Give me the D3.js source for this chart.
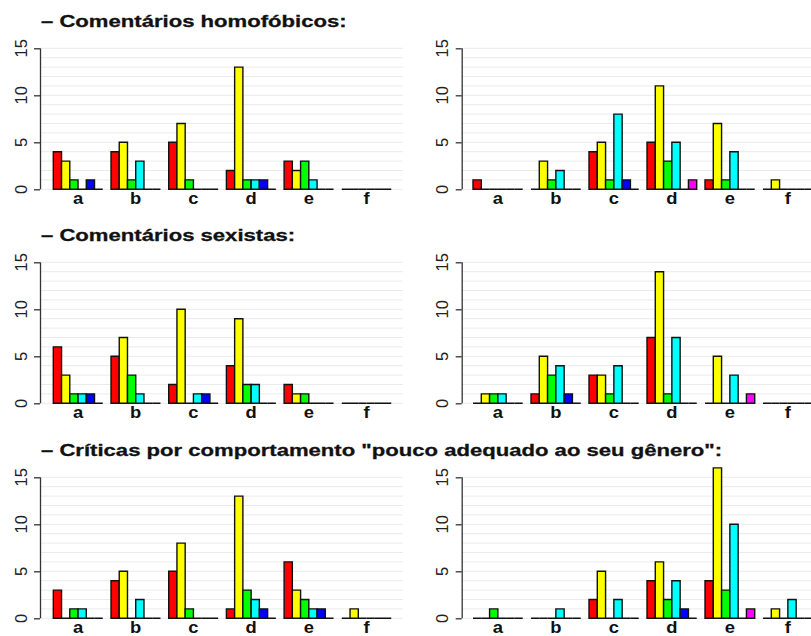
<!DOCTYPE html>
<html>
<head>
<meta charset="utf-8">
<script src="https://cdn.jsdelivr.net/npm/d3@7"></script>
<style>
  body { margin: 0; background: #fff; }
  svg { display: block; font-family: "Liberation Sans", Arial, sans-serif; }
</style>
</head>
<body>
<div id="chart"></div>
<script>
// categories and series
const groups = ['a', 'b', 'c', 'd', 'e', 'f'];
const seriesColors = ['#ff0000', '#ffff00', '#00ff00', '#00ffff', '#0000ff', '#ff00ff'];
const yTicks = [0, 5, 10, 15];
const rowTitles = [
  '\u2013 Comentários homofóbicos:',
  '\u2013 Comentários sexistas:',
  '\u2013 Críticas por comportamento "pouco adequado ao seu gênero":'
];

// values per group (a..f), six bars each (red, yellow, green, cyan, blue, magenta)
const homofobicosLeft = [[4, 3, 1, 0, 1, 0], [4, 5, 1, 3, 0, 0], [5, 7, 1, 0, 0, 0], [2, 13, 1, 1, 1, 0], [3, 2, 3, 1, 0, 0], [0, 0, 0, 0, 0, 0]];
const homofobicosRight = [[1, 0, 0, 0, 0, 0], [0, 3, 1, 2, 0, 0], [4, 5, 1, 8, 1, 0], [5, 11, 3, 5, 0, 1], [1, 7, 1, 4, 0, 0], [0, 1, 0, 0, 0, 0]];
const sexistasLeft = [[6, 3, 1, 1, 1, 0], [5, 7, 3, 1, 0, 0], [2, 10, 0, 1, 1, 0], [4, 9, 2, 2, 0, 0], [2, 1, 1, 0, 0, 0], [0, 0, 0, 0, 0, 0]];
const sexistasRight = [[0, 1, 1, 1, 0, 0], [1, 5, 3, 4, 1, 0], [3, 3, 1, 4, 0, 0], [7, 14, 1, 7, 0, 0], [0, 5, 0, 3, 0, 1], [0, 0, 0, 0, 0, 0]];
const criticasLeft = [[3, 0, 1, 1, 0, 0], [4, 5, 0, 2, 0, 0], [5, 8, 1, 0, 0, 0], [1, 13, 3, 2, 1, 0], [6, 3, 2, 1, 1, 0], [0, 1, 0, 0, 0, 0]];
const criticasRight = [[0, 0, 1, 0, 0, 0], [0, 0, 0, 1, 0, 0], [2, 5, 0, 2, 0, 0], [4, 6, 2, 4, 1, 0], [4, 16, 3, 10, 0, 1], [0, 1, 0, 2, 0, 0]];

const panelRows = [
  [homofobicosLeft, homofobicosRight],
  [sexistasLeft, sexistasRight],
  [criticasLeft, criticasRight]
];

const width = 811, height = 636;
const rowZero = [189.3, 403.3, 618.3];
const unit = 9.4;
const cols = [
  { axisX: 40, start: 53.3, step: 57.7, gridEnd: 403 },
  { axisX: 461.7, start: 473, step: 58, gridEnd: 811 }
];

const svg = d3.select('#chart').append('svg')
  .attr('width', width)
  .attr('height', height)
  .attr('viewBox', [0, 0, width, height]);

panelRows.forEach((row, r) => {
  const y0 = rowZero[r];
  const y = d3.scaleLinear().domain([0, 15]).range([y0, y0 - 15 * unit]);

  // row title
  svg.append('text')
    .attr('transform', `translate(41,${y(15) - 21}) scale(1.3,1)`)
    .attr('font-size', 17)
    .attr('font-weight', 'bold')
    .attr('fill', '#111')
    .attr('stroke', '#111')
    .attr('stroke-width', 0.3)
    .text(rowTitles[r]);

  row.forEach((values, c) => {
    const col = cols[c];
    const barW = col.step / 7;
    const x0 = d3.scaleBand()
      .domain(groups)
      .range([col.start, col.start + 6 * col.step - barW])
      .paddingInner(1 / 7)
      .paddingOuter(0);
    const x1 = d3.scaleBand()
      .domain(d3.range(seriesColors.length))
      .range([0, x0.bandwidth()]);

    const g = svg.append('g');

    // light grid
    g.append('g')
      .selectAll('line')
      .data(d3.range(0, 16))
      .join('line')
      .attr('x1', col.axisX)
      .attr('x2', col.gridEnd)
      .attr('y1', d => y(d))
      .attr('y2', d => y(d))
      .attr('stroke', '#ebebeb')
      .attr('stroke-width', 1);

    // bars (zero values drawn as flat outlines, as R does)
    g.append('g')
      .selectAll('g')
      .data(values)
      .join('g')
      .attr('transform', (d, i) => `translate(${x0(groups[i])},0)`)
      .selectAll('path')
      .data(d => d)
      .join('path')
      .attr('d', (v, i) => {
        const x = x1(i), w = x1.bandwidth();
        return `M${x},${y(0)}H${x + w}V${y(v)}H${x}Z`;
      })
      .attr('fill', (v, i) => seriesColors[i])
      .attr('stroke', '#111')
      .attr('stroke-width', 1.4);

    // group labels
    g.append('g')
      .selectAll('text')
      .data(groups)
      .join('text')
      .attr('transform', d => `translate(${x0(d) + x0.bandwidth() / 2},${y0 + 14.5}) scale(1.15,1)`)
      .attr('text-anchor', 'middle')
      .attr('font-size', 16)
      .attr('font-weight', 'bold')
      .attr('fill', '#111')
      .text(d => d);

    // y axis
    const axis = g.append('g')
      .attr('transform', `translate(${col.axisX},0)`)
      .call(d3.axisLeft(y).tickValues(yTicks).tickSize(6).tickFormat(''));
    axis.select('.domain').attr('stroke', '#333').attr('stroke-width', 1.3)
      .attr('d', `M0.5,${y(15)}V${y(0)}`);
    axis.selectAll('.tick line').attr('stroke', '#333').attr('stroke-width', 1.3);

    g.append('g')
      .selectAll('text')
      .data(yTicks)
      .join('text')
      .attr('transform', d => `translate(${col.axisX - 13.5},${y(d)}) rotate(-90)`)
      .attr('text-anchor', 'middle')
      .attr('font-size', 16.5)
      .attr('fill', '#222')
      .text(d => d);
  });
});
</script>
</body>
</html>
